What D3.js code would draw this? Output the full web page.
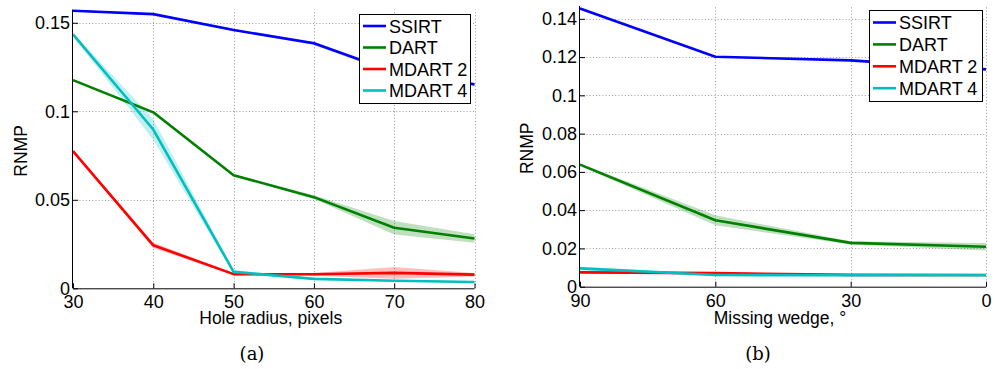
<!DOCTYPE html>
<html><head><meta charset="utf-8">
<script src="https://cdn.jsdelivr.net/npm/d3@7"></script>
<style>body{margin:0;background:#fff}svg{display:block}</style>
</head><body>
<svg id="c" width="995" height="369"></svg>
<script>
// ---- Data ----
const seriesNames = ["SSIRT", "DART", "MDART 2", "MDART 4"];
const seriesColors = ["#0000ff", "#008000", "#ff0000", "#00bfbf"];

// Panel (a): Hole radius, pixels
const holeRadius = [30, 40, 50, 60, 70, 80];
const aSSIRT  = [0.1568, 0.1549, 0.1459, 0.1384, 0.1222, 0.1152];
const aDART   = [0.1176, 0.0994, 0.0639, 0.0515, 0.0342, 0.0281];
const aMDART2 = [0.0775, 0.0243, 0.0080, 0.0079, 0.0087, 0.0077];
const aMDART4 = [0.1434, 0.0897, 0.0093, 0.0053, 0.0043, 0.0036];
const aSSIRTsd  = [0.0004, 0.0005, 0.0006, 0.0009, 0.0008, 0.0006];
const aDARTsd   = [0.0005, 0.0008, 0.0006, 0.0010, 0.0038, 0.0024];
const aMDART2sd = [0.0006, 0.0015, 0.0006, 0.0008, 0.0033, 0.0010];
const aMDART4sd = [0.0010, 0.0058, 0.0010, 0.0004, 0.0004, 0.0004];
const aXTicks = [30, 40, 50, 60, 70, 80];
const aYTicks = [0, 0.05, 0.1, 0.15];
const aYTickLabels = ["0", "0.05", "0.1", "0.15"];

// Panel (b): Missing wedge
const wedge = [90, 60, 30, 0];
const bSSIRT  = [0.1454, 0.1202, 0.1183, 0.1136];
const bDART   = [0.0638, 0.0347, 0.0229, 0.0209];
const bMDART2 = [0.0075, 0.0071, 0.0062, 0.0061];
const bMDART4 = [0.0096, 0.0061, 0.0060, 0.0060];
const bSSIRTsd  = [0.0005, 0.0004, 0.0004, 0.0004];
const bDARTsd   = [0.0006, 0.0026, 0.0008, 0.0020];
const bMDART2sd = [0.0004, 0.0004, 0.0003, 0.0003];
const bMDART4sd = [0.0010, 0.0005, 0.0004, 0.0004];
const bXTicks = [90, 60, 30, 0];
const bYTicks = [0, 0.02, 0.04, 0.06, 0.08, 0.1, 0.12, 0.14];
const bYTickLabels = ["0", "0.02", "0.04", "0.06", "0.08", "0.1", "0.12", "0.14"];

const svg = d3.select("#c");
const FONT = "'Liberation Sans', Arial, sans-serif";

function panel(cfg) {
  const x = d3.scaleLinear().domain(cfg.xDomain).range(cfg.xRange);
  const y = d3.scaleLinear().domain(cfg.yDomain).range(cfg.yRange);
  const g = svg.append("g");
  const [x0, x1] = cfg.xRange, [y0, y1] = cfg.yRange;

  // grid
  const grid = g.append("g").attr("stroke", "#9a9a9a").attr("stroke-width", 1)
    .attr("stroke-dasharray", "1,2.2").attr("fill", "none");
  cfg.xTicks.forEach(t => {
    if (Math.abs(x(t) - x0) < 1) return;
    grid.append("line").attr("x1", Math.round(x(t)) + 0.5).attr("x2", Math.round(x(t)) + 0.5)
      .attr("y1", y0).attr("y2", y1);
  });
  cfg.yTicks.forEach(t => {
    if (t === 0) return;
    grid.append("line").attr("x1", x0).attr("x2", x1)
      .attr("y1", Math.round(y(t)) + 0.5).attr("y2", Math.round(y(t)) + 0.5);
  });

  // bands + lines
  cfg.series.forEach((s, i) => {
    const pts = cfg.xs.map((xv, j) => ({x: xv, v: s.v[j], sd: s.sd[j]}));
    const area = d3.area().x(d => x(d.x)).y0(d => y(d.v - d.sd)).y1(d => y(d.v + d.sd));
    g.append("path").attr("d", area(pts)).attr("fill", seriesColors[i]).attr("opacity", 0.25);
  });
  cfg.series.forEach((s, i) => {
    const pts = cfg.xs.map((xv, j) => ({x: xv, v: s.v[j]}));
    const line = d3.line().x(d => x(d.x)).y(d => y(d.v));
    g.append("path").attr("d", line(pts)).attr("fill", "none")
      .attr("stroke", seriesColors[i]).attr("stroke-width", 2.6).attr("stroke-linejoin", "round");
  });

  // axes
  const ax = g.append("g").attr("transform", `translate(0,${y0})`)
    .call(d3.axisBottom(x).tickValues(cfg.xTicks).tickSize(-5).tickPadding(0).tickFormat(d3.format("d")));
  ax.select(".domain").attr("d", `M${x0},0.5H${x1}`).attr("stroke", "#000");
  ax.selectAll(".tick line").attr("stroke", "#000");
  ax.selectAll(".tick text").attr("y", 20).attr("dy", 0)
    .attr("font-family", FONT).attr("font-size", 18).attr("fill", "#000");

  const ay = g.append("g").attr("transform", `translate(${x0},0)`)
    .call(d3.axisLeft(y).tickValues(cfg.yTicks).tickSize(-5).tickPadding(3)
      .tickFormat((d, i) => cfg.yTickLabels[i]));
  ay.select(".domain").attr("d", `M-0.5,${y0}V${y1}`).attr("stroke", "#000");
  ay.selectAll(".tick line").attr("stroke", "#000");
  ay.selectAll(".tick text").attr("font-family", FONT).attr("font-size", 18).attr("fill", "#000");

  // labels
  g.append("text").attr("x", (x0 + x1) / 2 - 3).attr("y", cfg.xLabelY).attr("text-anchor", "middle")
    .attr("font-family", FONT).attr("font-size", 17.5).text(cfg.xLabel);
  g.append("text").attr("transform", `translate(${cfg.yLabelX},${(y0 + y1) / 2 + 2}) rotate(-90)`)
    .attr("text-anchor", "middle").attr("font-family", FONT).attr("font-size", 17.5).text("RNMP");
  g.append("text").attr("x", cfg.capX).attr("y", 360).attr("text-anchor", "middle")
    .attr("font-family", "'DejaVu Serif', 'Liberation Serif', serif").attr("font-size", 18).text(cfg.caption);

  // legend
  const L = cfg.legend;
  const lg = g.append("g");
  lg.append("rect").attr("x", L.x + 0.5).attr("y", L.y + 0.5).attr("width", L.w).attr("height", L.h)
    .attr("fill", "#fff").attr("stroke", "#000").attr("stroke-width", 1);
  seriesNames.forEach((n, i) => {
    const yy = L.y + L.first + i * L.step;
    lg.append("line").attr("x1", L.x + 4).attr("x2", L.x + 27).attr("y1", yy).attr("y2", yy)
      .attr("stroke", seriesColors[i]).attr("stroke-width", 2.6);
    lg.append("text").attr("x", L.x + 30).attr("y", yy + 6.5).attr("font-family", FONT)
      .attr("font-size", 18).text(n);
  });
}

panel({
  xs: holeRadius, xDomain: [30, 80], xRange: [73, 474.5],
  yDomain: [0, 0.1575], yRange: [288.3, 9.5],
  xTicks: aXTicks, yTicks: aYTicks, yTickLabels: aYTickLabels,
  series: [
    {v: aSSIRT, sd: aSSIRTsd}, {v: aDART, sd: aDARTsd},
    {v: aMDART2, sd: aMDART2sd}, {v: aMDART4, sd: aMDART4sd}],
  xLabel: "Hole radius, pixels", xLabelY: 324, yLabelX: 27, capX: 252, caption: "(a)",
  legend: {x: 359, y: 14, w: 111, h: 89, first: 12, step: 21.5}
});

panel({
  xs: wedge, xDomain: [90, 0], xRange: [580, 986],
  yDomain: [0, 0.1467], yRange: [286.7, 6],
  xTicks: bXTicks, yTicks: bYTicks, yTickLabels: bYTickLabels,
  series: [
    {v: bSSIRT, sd: bSSIRTsd}, {v: bDART, sd: bDARTsd},
    {v: bMDART2, sd: bMDART2sd}, {v: bMDART4, sd: bMDART4sd}],
  xLabel: "Missing wedge, °", xLabelY: 324, yLabelX: 533, capX: 758, caption: "(b)",
  legend: {x: 869, y: 10, w: 113, h: 91, first: 12.5, step: 21.9}
});
</script>
</body></html>
